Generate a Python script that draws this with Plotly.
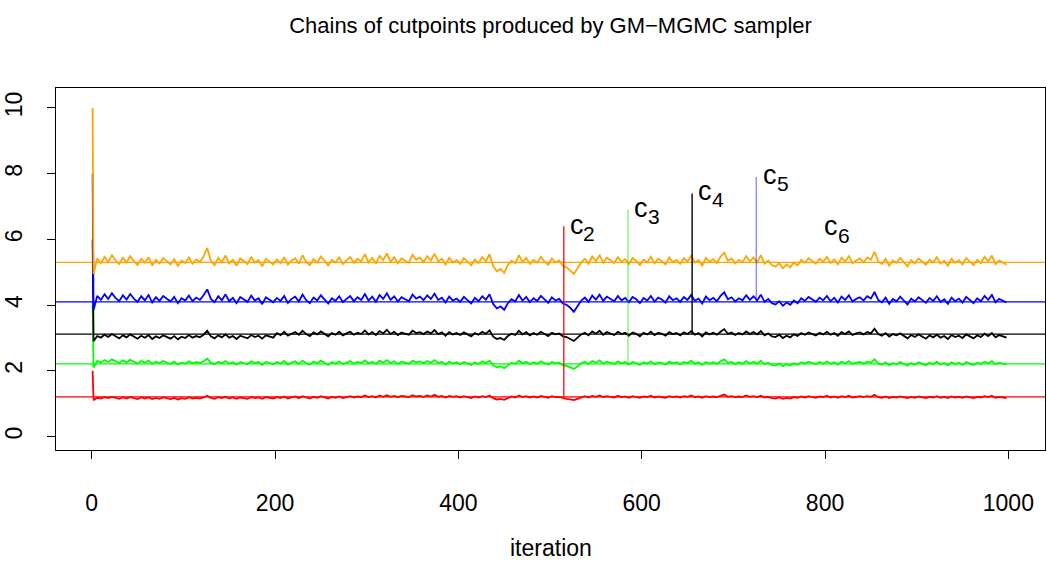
import plotly.graph_objects as go

# ---------------- data ----------------
iterations = [1] + list(range(2, 1001, 4))

start_values = {"c2": 2.0, "c3": 4.0, "c4": 6.0, "c5": 8.0, "c6": 10.0}

chain_c6 = [
    4.95, 5.42, 5.28, 5.47, 5.31, 5.52, 5.36, 5.25, 5.44, 5.30,
    5.49, 5.34, 5.22, 5.41, 5.29, 5.46, 5.21, 5.38, 5.27, 5.43,
    5.32, 5.24, 5.40, 5.19, 5.36, 5.28, 5.45, 5.26, 5.39, 5.31,
    5.48, 5.74, 5.35, 5.22, 5.44, 5.30, 5.51, 5.27, 5.38, 5.20,
    5.42, 5.33, 5.25, 5.47, 5.29, 5.37, 5.18, 5.41, 5.32, 5.24,
    5.39, 5.28, 5.46, 5.23, 5.35, 5.43, 5.26, 5.52, 5.31, 5.22,
    5.40, 5.29, 5.48, 5.34, 5.21, 5.38, 5.30, 5.45, 5.25, 5.36,
    5.47, 5.28, 5.41, 5.33, 5.55, 5.30, 5.44, 5.26, 5.50, 5.37,
    5.58, 5.32, 5.46, 5.27, 5.42, 5.35, 5.29, 5.53, 5.38, 5.45,
    5.31, 5.49, 5.36, 5.57, 5.33, 5.41, 5.24, 5.44, 5.30, 5.37,
    5.26, 5.43, 5.32, 5.21, 5.39, 5.28, 5.46, 5.34, 5.55, 5.18,
    5.03, 5.10, 4.98, 5.22, 5.35, 5.27, 5.52, 5.31, 5.44, 5.25,
    5.38, 5.29, 5.47, 5.33, 5.23, 5.42, 5.30, 5.36, 5.20, 5.15,
    5.05, 4.95, 5.12, 5.30, 5.41, 5.26, 5.48, 5.34, 5.53, 5.29,
    5.44, 5.37, 5.28, 5.46, 5.32, 5.40, 5.25, 5.43, 5.35, 5.22,
    5.39, 5.30, 5.47, 5.27, 5.41, 5.34, 5.24, 5.45, 5.31, 5.38,
    5.26, 5.43, 5.33, 5.50, 5.29, 5.37, 5.21, 5.44, 5.32, 5.40,
    5.28, 5.47, 5.60, 5.35, 5.42, 5.27, 5.38, 5.31, 5.49, 5.33,
    5.45, 5.30, 5.52, 5.26, 5.36, 5.22, 5.17, 5.28, 5.12, 5.24,
    5.15, 5.30, 5.21, 5.38, 5.29, 5.43, 5.34, 5.26, 5.41, 5.32,
    5.47, 5.28, 5.39, 5.24, 5.44, 5.33, 5.49, 5.27, 5.36, 5.42,
    5.30, 5.45, 5.38, 5.62, 5.33, 5.25, 5.41, 5.20, 5.36, 5.29,
    5.44, 5.31, 5.18, 5.37, 5.27, 5.42, 5.33, 5.23, 5.39, 5.30,
    5.46, 5.26, 5.35, 5.20, 5.41, 5.29, 5.37, 5.24, 5.43, 5.31,
    5.22, 5.38, 5.28, 5.47, 5.33, 5.51, 5.25, 5.36, 5.29, 5.23,
]

chain_c5 = [
    3.85, 4.28, 4.16, 4.33, 4.19, 4.36, 4.22, 4.12, 4.30, 4.17,
    4.34, 4.20, 4.10, 4.27, 4.15, 4.31, 4.08, 4.24, 4.13, 4.28,
    4.18, 4.11, 4.25, 4.06, 4.21, 4.14, 4.29, 4.12, 4.23, 4.16,
    4.30, 4.48, 4.19, 4.09, 4.27, 4.15, 4.33, 4.12, 4.22, 4.06,
    4.25, 4.17, 4.10, 4.29, 4.14, 4.21, 4.03, 4.24, 4.16, 4.09,
    4.22, 4.13, 4.28, 4.07, 4.19, 4.26, 4.11, 4.32, 4.15, 4.06,
    4.23, 4.14, 4.30, 4.18, 4.05, 4.21, 4.13, 4.27, 4.09, 4.19,
    4.28, 4.12, 4.24, 4.16, 4.34, 4.14, 4.26, 4.10, 4.31, 4.19,
    4.36, 4.16, 4.27, 4.11, 4.24, 4.18, 4.12, 4.32, 4.20, 4.26,
    4.15, 4.30, 4.19, 4.35, 4.16, 4.23, 4.08, 4.26, 4.14, 4.20,
    4.10, 4.25, 4.15, 4.05, 4.22, 4.12, 4.27, 4.17, 4.33, 4.03,
    3.90, 3.96, 3.86, 4.06, 4.18, 4.11, 4.31, 4.14, 4.25, 4.09,
    4.21, 4.13, 4.28, 4.16, 4.07, 4.24, 4.14, 4.19, 4.05, 4.01,
    3.92, 3.80, 3.98, 4.14, 4.23, 4.10, 4.29, 4.17, 4.32, 4.13,
    4.26, 4.19, 4.12, 4.28, 4.15, 4.22, 4.09, 4.25, 4.18, 4.06,
    4.22, 4.14, 4.28, 4.11, 4.23, 4.17, 4.08, 4.27, 4.15, 4.21,
    4.10, 4.25, 4.16, 4.31, 4.13, 4.20, 4.05, 4.26, 4.15, 4.22,
    4.12, 4.28, 4.39, 4.18, 4.24, 4.11, 4.21, 4.15, 4.30, 4.16,
    4.27, 4.14, 4.32, 4.10, 4.19, 4.06, 4.02, 4.12, 3.98, 4.08,
    4.01, 4.14, 4.06, 4.21, 4.13, 4.25, 4.17, 4.10, 4.23, 4.15,
    4.28, 4.12, 4.22, 4.08, 4.26, 4.16, 4.30, 4.11, 4.19, 4.24,
    4.14, 4.27, 4.20, 4.40, 4.16, 4.09, 4.23, 4.04, 4.19, 4.12,
    4.26, 4.14, 4.02, 4.20, 4.11, 4.24, 4.16, 4.07, 4.22, 4.13,
    4.27, 4.10, 4.18, 4.04, 4.23, 4.12, 4.20, 4.08, 4.25, 4.14,
    4.06, 4.21, 4.12, 4.28, 4.16, 4.31, 4.09, 4.19, 4.13, 4.08,
]

chain_c4 = [
    2.90, 3.06, 3.01, 3.10, 3.03, 3.12, 3.05, 2.99, 3.08, 3.02,
    3.11, 3.04, 2.98, 3.07, 3.01, 3.09, 2.97, 3.05, 3.00, 3.08,
    3.03, 2.98, 3.06, 2.96, 3.04, 3.00, 3.09, 3.01, 3.06, 3.02,
    3.10, 3.22, 3.05, 2.99, 3.08, 3.02, 3.11, 3.01, 3.06, 2.97,
    3.07, 3.02, 2.99, 3.09, 3.03, 3.07, 2.98, 3.08, 3.04, 3.01,
    3.15, 3.09, 3.19, 3.07, 3.13, 3.18, 3.10, 3.22, 3.12, 3.06,
    3.17, 3.11, 3.20, 3.13, 3.05, 3.15, 3.10, 3.19, 3.08, 3.14,
    3.19, 3.10, 3.16, 3.12, 3.23, 3.11, 3.18, 3.09, 3.21, 3.14,
    3.25, 3.12, 3.19, 3.09, 3.17, 3.13, 3.10, 3.22, 3.15, 3.18,
    3.12, 3.20, 3.14, 3.24, 3.12, 3.17, 3.07, 3.18, 3.11, 3.15,
    3.09, 3.17, 3.12, 3.05, 3.15, 3.10, 3.19, 3.13, 3.23, 3.04,
    2.97, 3.00, 2.94, 3.06, 3.13, 3.09, 3.22, 3.11, 3.18, 3.08,
    3.15, 3.10, 3.19, 3.13, 3.06, 3.16, 3.11, 3.14, 3.05, 3.03,
    2.98, 2.91, 3.01, 3.11, 3.16, 3.08, 3.20, 3.13, 3.22, 3.10,
    3.18, 3.14, 3.09, 3.19, 3.12, 3.16, 3.07, 3.17, 3.13, 3.05,
    3.16, 3.11, 3.19, 3.09, 3.16, 3.13, 3.07, 3.18, 3.12, 3.15,
    3.08, 3.17, 3.12, 3.21, 3.10, 3.15, 3.05, 3.17, 3.11, 3.16,
    3.10, 3.19, 3.27, 3.13, 3.17, 3.09, 3.15, 3.11, 3.20, 3.12,
    3.18, 3.11, 3.21, 3.08, 3.14, 3.05, 3.03, 3.10, 3.00, 3.07,
    3.02, 3.11, 3.06, 3.15, 3.10, 3.17, 3.13, 3.08, 3.16, 3.11,
    3.19, 3.10, 3.15, 3.07, 3.18, 3.12, 3.20, 3.09, 3.14, 3.17,
    3.11, 3.18, 3.14, 3.28, 3.12, 3.07, 3.15, 3.04, 3.12, 3.08,
    3.14, 3.06, 2.99, 3.09, 3.03, 3.11, 3.05, 2.98, 3.08, 3.02,
    3.10, 3.01, 3.06, 2.97, 3.09, 3.03, 3.07, 3.00, 3.11, 3.04,
    2.99, 3.08, 3.03, 3.13, 3.06, 3.15, 3.02, 3.09, 3.05, 3.01,
]

chain_c3 = [
    2.10, 2.30, 2.25, 2.33, 2.27, 2.35, 2.29, 2.24, 2.32, 2.26,
    2.34, 2.28, 2.22, 2.30, 2.25, 2.32, 2.21, 2.28, 2.24, 2.30,
    2.26, 2.21, 2.28, 2.19, 2.25, 2.22, 2.29, 2.23, 2.27, 2.24,
    2.29, 2.37, 2.25, 2.20, 2.28, 2.23, 2.30, 2.22, 2.26, 2.19,
    2.27, 2.23, 2.20, 2.29, 2.24, 2.27, 2.18, 2.28, 2.23, 2.20,
    2.27, 2.22, 2.30, 2.19, 2.25, 2.29, 2.21, 2.31, 2.24, 2.19,
    2.28, 2.23, 2.31, 2.25, 2.18, 2.27, 2.22, 2.29, 2.20, 2.25,
    2.30, 2.22, 2.27, 2.24, 2.32, 2.23, 2.28, 2.21, 2.31, 2.25,
    2.33, 2.24, 2.29, 2.21, 2.28, 2.25, 2.22, 2.31, 2.26, 2.29,
    2.23, 2.30, 2.25, 2.33, 2.24, 2.28, 2.19, 2.28, 2.22, 2.26,
    2.20, 2.27, 2.23, 2.18, 2.26, 2.21, 2.29, 2.24, 2.31, 2.17,
    2.11, 2.14, 2.08, 2.18, 2.25, 2.21, 2.31, 2.23, 2.28, 2.20,
    2.26, 2.22, 2.29, 2.24, 2.19, 2.27, 2.23, 2.25, 2.17, 2.15,
    2.11, 2.06, 2.14, 2.23, 2.28, 2.21, 2.30, 2.25, 2.32, 2.22,
    2.28, 2.25, 2.21, 2.29, 2.23, 2.27, 2.19, 2.27, 2.24, 2.18,
    2.26, 2.22, 2.29, 2.20, 2.26, 2.24, 2.19, 2.28, 2.23, 2.26,
    2.20, 2.27, 2.23, 2.31, 2.22, 2.26, 2.18, 2.27, 2.22, 2.26,
    2.21, 2.29, 2.35, 2.24, 2.27, 2.21, 2.26, 2.22, 2.30, 2.23,
    2.28, 2.22, 2.31, 2.20, 2.25, 2.18, 2.16, 2.22, 2.14, 2.20,
    2.16, 2.23, 2.19, 2.26, 2.22, 2.28, 2.24, 2.20, 2.27, 2.22,
    2.29, 2.21, 2.26, 2.19, 2.28, 2.23, 2.30, 2.21, 2.25, 2.27,
    2.22, 2.28, 2.25, 2.35, 2.23, 2.19, 2.26, 2.17, 2.24, 2.20,
    2.27, 2.22, 2.16, 2.24, 2.19, 2.26, 2.21, 2.17, 2.25, 2.20,
    2.28, 2.19, 2.24, 2.17, 2.26, 2.21, 2.25, 2.18, 2.27, 2.22,
    2.18, 2.25, 2.21, 2.28, 2.23, 2.30, 2.20, 2.25, 2.22, 2.19,
]

chain_c2 = [
    1.11, 1.18, 1.16, 1.20, 1.17, 1.21, 1.18, 1.15, 1.19, 1.16,
    1.20, 1.17, 1.14, 1.19, 1.16, 1.19, 1.14, 1.18, 1.15, 1.19,
    1.17, 1.14, 1.18, 1.13, 1.17, 1.15, 1.19, 1.16, 1.18, 1.16,
    1.19, 1.24, 1.18, 1.15, 1.20, 1.17, 1.21, 1.16, 1.19, 1.15,
    1.19, 1.17, 1.15, 1.20, 1.17, 1.19, 1.15, 1.20, 1.17, 1.16,
    1.20, 1.17, 1.22, 1.16, 1.19, 1.22, 1.17, 1.23, 1.19, 1.16,
    1.21, 1.18, 1.23, 1.19, 1.16, 1.21, 1.18, 1.22, 1.17, 1.20,
    1.23, 1.19, 1.22, 1.20, 1.25, 1.20, 1.23, 1.19, 1.25, 1.21,
    1.26, 1.21, 1.24, 1.20, 1.24, 1.22, 1.20, 1.26, 1.22, 1.24,
    1.21, 1.25, 1.22, 1.27, 1.21, 1.24, 1.19, 1.24, 1.21, 1.23,
    1.19, 1.23, 1.20, 1.17, 1.22, 1.19, 1.23, 1.20, 1.25, 1.17,
    1.13, 1.15, 1.12, 1.18, 1.22, 1.19, 1.25, 1.20, 1.23, 1.19,
    1.22, 1.19, 1.24, 1.21, 1.18, 1.23, 1.20, 1.21, 1.17, 1.15,
    1.13, 1.11, 1.15, 1.20, 1.23, 1.19, 1.24, 1.21, 1.25, 1.20,
    1.23, 1.21, 1.19, 1.24, 1.20, 1.22, 1.18, 1.23, 1.21, 1.18,
    1.22, 1.20, 1.24, 1.19, 1.22, 1.21, 1.18, 1.23, 1.20, 1.22,
    1.19, 1.23, 1.21, 1.25, 1.20, 1.22, 1.18, 1.23, 1.20, 1.22,
    1.20, 1.24, 1.28, 1.21, 1.23, 1.20, 1.22, 1.20, 1.25, 1.21,
    1.23, 1.20, 1.24, 1.19, 1.21, 1.17, 1.16, 1.19, 1.15, 1.18,
    1.16, 1.20, 1.18, 1.22, 1.19, 1.23, 1.21, 1.18, 1.22, 1.20,
    1.24, 1.19, 1.22, 1.18, 1.23, 1.20, 1.24, 1.19, 1.21, 1.23,
    1.20, 1.23, 1.21, 1.27, 1.20, 1.18, 1.22, 1.17, 1.21, 1.19,
    1.22, 1.20, 1.17, 1.21, 1.18, 1.22, 1.19, 1.17, 1.21, 1.19,
    1.23, 1.18, 1.21, 1.17, 1.22, 1.19, 1.21, 1.18, 1.22, 1.20,
    1.17, 1.21, 1.19, 1.23, 1.20, 1.24, 1.18, 1.21, 1.19, 1.17,
]

cut_names = ["c2", "c3", "c4", "c5", "c6"]
cut_levels = [1.21, 2.21, 3.12, 4.10, 5.30]          # horizontal reference lines
marker_x = [515, 585, 655, 725]                       # vertical label lines (c2..c5)
marker_top = [6.40, 6.90, 7.40, 7.90]
label_c_x = [529, 599, 669, 740, 807]
label_c_y = [6.45, 6.95, 7.47, 7.97, 6.40]
label_sub_x = [543, 613, 683, 754, 821]
label_sub_y = [6.18, 6.69, 7.21, 7.71, 6.11]
sub_text = ["2", "3", "4", "5", "6"]

chains = {"c2": chain_c2, "c3": chain_c3, "c4": chain_c4, "c5": chain_c5, "c6": chain_c6}
colors = {"c2": "#FF0000", "c3": "#00FF00", "c4": "#000000", "c5": "#0000FF", "c6": "#FFA500"}
marker_colors = ["rgba(255,0,0,0.9)", "rgba(0,230,0,0.5)", "rgba(0,0,0,1)", "rgba(0,0,255,0.45)"]

FONT = "Liberation Sans, Arial, Helvetica, sans-serif"

# ---------------- figure ----------------
fig = go.Figure()

for name in cut_names:
    fig.add_trace(go.Scatter(
        x=iterations,
        y=[start_values[name]] + chains[name],
        mode="lines",
        line=dict(color=colors[name], width=1.8),
        showlegend=False,
        hoverinfo="skip",
    ))

shapes = []
for name, lvl in zip(cut_names, cut_levels):
    shapes.append(dict(type="line", xref="paper", x0=0, x1=1, yref="y", y0=lvl, y1=lvl,
                       line=dict(color=colors[name], width=1.3), layer="below"))
for i, (mx, mt) in enumerate(zip(marker_x, marker_top)):
    shapes.append(dict(type="line", xref="x", x0=mx, x1=mx, yref="y", y0=cut_levels[i], y1=mt,
                       line=dict(color=marker_colors[i], width=1.4), layer="above"))

annotations = []
for cx, cy, sx, sy, st in zip(label_c_x, label_c_y, label_sub_x, label_sub_y, sub_text):
    annotations.append(dict(x=cx, y=cy, xref="x", yref="y", text="c", showarrow=False,
                            xanchor="center", yanchor="middle",
                            font=dict(family=FONT, size=27, color="black")))
    annotations.append(dict(x=sx, y=sy, xref="x", yref="y", text=st, showarrow=False,
                            xanchor="center", yanchor="middle",
                            font=dict(family=FONT, size=21, color="black")))
annotations.append(dict(x=0.5, y=-0.271, xref="paper", yref="paper", text="iteration",
                        showarrow=False, xanchor="center", yanchor="middle",
                        font=dict(family=FONT, size=23, color="black")))

fig.update_layout(
    width=1047, height=566,
    margin=dict(l=52, r=1, t=88, b=116),
    paper_bgcolor="white", plot_bgcolor="white",
    title=dict(text="Chains of cutpoints produced by GM\u2212MGMC sampler",
               x=0.5, xref="paper", xanchor="center",
               y=1 - 25 / 566, yref="container", yanchor="middle",
               font=dict(family=FONT, size=22, color="black")),
    shapes=shapes,
    annotations=annotations,
    showlegend=False,
)

fig.update_xaxes(range=[-38.96, 1039.96], tickvals=[0, 200, 400, 600, 800, 1000],
                 showgrid=False, zeroline=False, showline=True, mirror=True,
                 linecolor="black", linewidth=1.2, ticks="outside", ticklen=8,
                 tickcolor="black", ticklabelstandoff=24,
                 tickfont=dict(family=FONT, size=23, color="black"))
fig.update_yaxes(range=[-0.408, 10.608], tickvals=[0, 2, 4, 6, 8, 10],
                 showgrid=False, zeroline=False, showline=True, mirror=True,
                 linecolor="black", linewidth=1.2, ticks="outside", ticklen=8,
                 tickcolor="black", tickangle=-90, ticklabelstandoff=16,
                 tickfont=dict(family=FONT, size=23, color="black"))

fig.write_html("out.html")
